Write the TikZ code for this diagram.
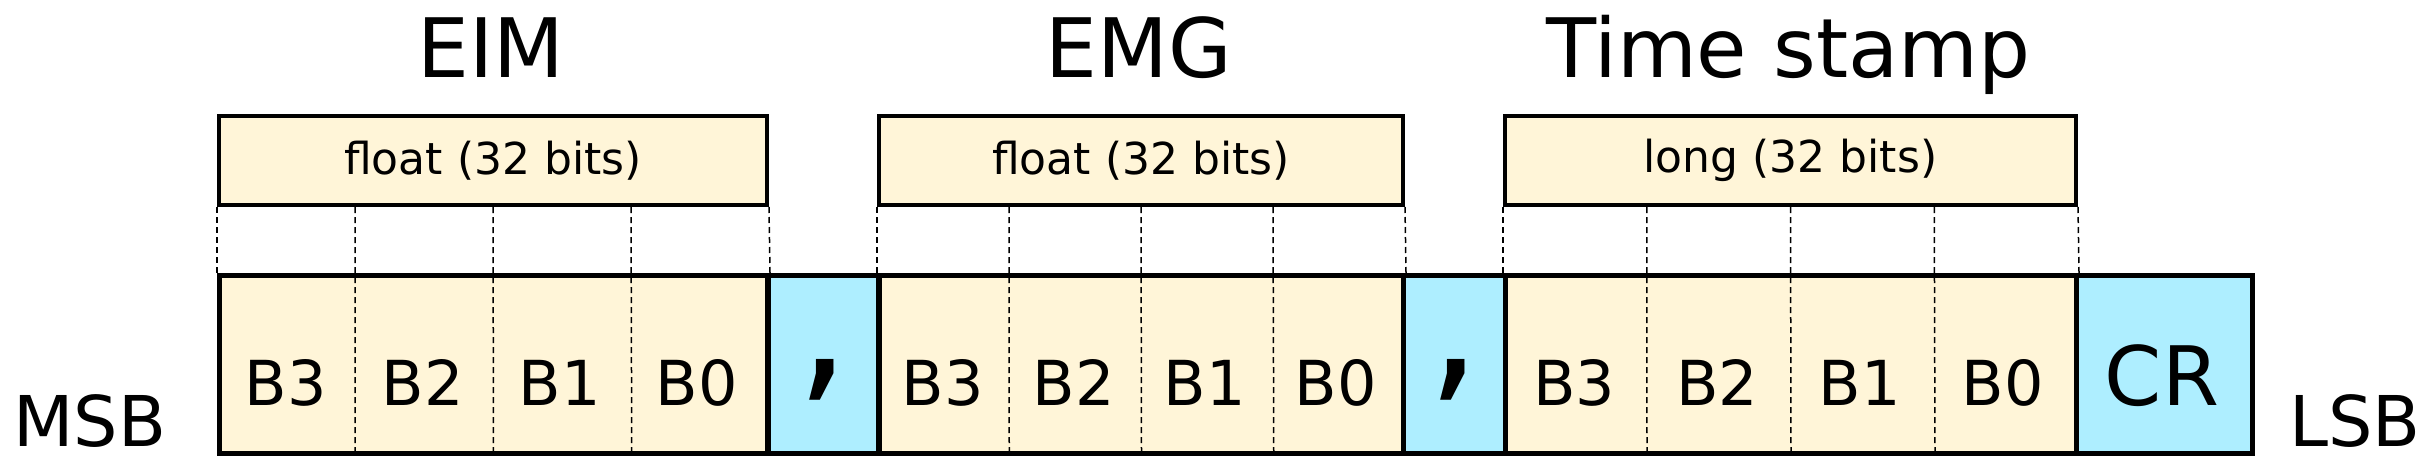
\documentclass[tikz,border=0pt]{standalone}
\usepackage{fontspec}
\setmainfont{DejaVu Sans}
\usetikzlibrary{calc}
\definecolor{cream}{HTML}{FFF5D8}
\definecolor{skyc}{HTML}{AEEEFF}
\begin{document}
\begin{tikzpicture}[x=1pt,y=-1pt,
  topbox/.style={draw,line width=4pt,fill=cream,anchor=north west,minimum height=89pt,inner sep=0pt,font=\fontsize{44}{44}\selectfont},
  rowbox/.style={draw,line width=5pt,anchor=north west,minimum height=178pt,inner sep=0pt},
  sepbox/.style={rowbox,fill=skyc},
  bytecell/.style={fill=cream,anchor=north west,minimum height=178pt,inner sep=0pt},
  bytetxt/.style={anchor=base,font=\fontsize{62}{62}\selectfont},
  sepchar/.style={font=\fontsize{170}{170}\selectfont},
  title/.style={anchor=base,font=\fontsize{82}{82}\selectfont},
  divline/.style={line width=1.5pt,dash pattern=on 6pt off 4pt}]
\useasboundingbox (0,0) rectangle (2427,472);
\foreach \g/\xa/\w/\lab/\ttl in {G1/217/548/float (32 bits)/EIM, G2/877/524/float (32 bits)/EMG, G3/1503/571/long (32 bits)/Time stamp}{
  \node[title] (\g title) at (\xa+\w/2,77) {\ttl};
  \node[topbox,minimum width=\w pt] (\g T) at (\xa,114) {\lab};
  \foreach \i/\b in {0/B3,1/B2,2/B1,3/B0}{
    \node[bytecell,minimum width=\w/4] (\g c\i) at (\xa+\i*\w/4,273) {};
    \node[bytetxt] (\g b\i) at (\xa+\i*\w/4+\w/8,405) {\b};
  }
  \node[rowbox,minimum width=\w pt] (\g R) at (\xa,273) {};
  \foreach \f in {0.25,0.5,0.75}{
    \draw[divline] ($(\g T.south west)!\f!(\g T.south east)$) -- ($(\g R.south west)!\f!(\g R.south east)$);
  }
  \draw[divline] (\g T.south west) -- (\g R.north west);
  \draw[divline] (\g T.south east) -- (\g R.north east);
}
\node[sepbox,minimum width=110pt] (S1) at (766,273) {};
\node[sepchar] (S1t) at ($(S1.center)+(0,15)$) {,};
\node[sepbox,minimum width=102pt] (S2) at (1401,273) {};
\node[sepchar] (S2t) at ($(S2.center)+(0,15)$) {,};
\node[sepbox,minimum width=176pt] (CR) at (2074,273) {};
\node[anchor=base,font=\fontsize{82}{82}\selectfont] (CRt) at (2162,405) {CR};
\node[anchor=base west,font=\fontsize{70}{70}\selectfont] (msb) at (10,446) {MSB};
\node[anchor=base east,font=\fontsize{70}{70}\selectfont] (lsb) at (2424,446) {LSB};
\end{tikzpicture}
\end{document}
